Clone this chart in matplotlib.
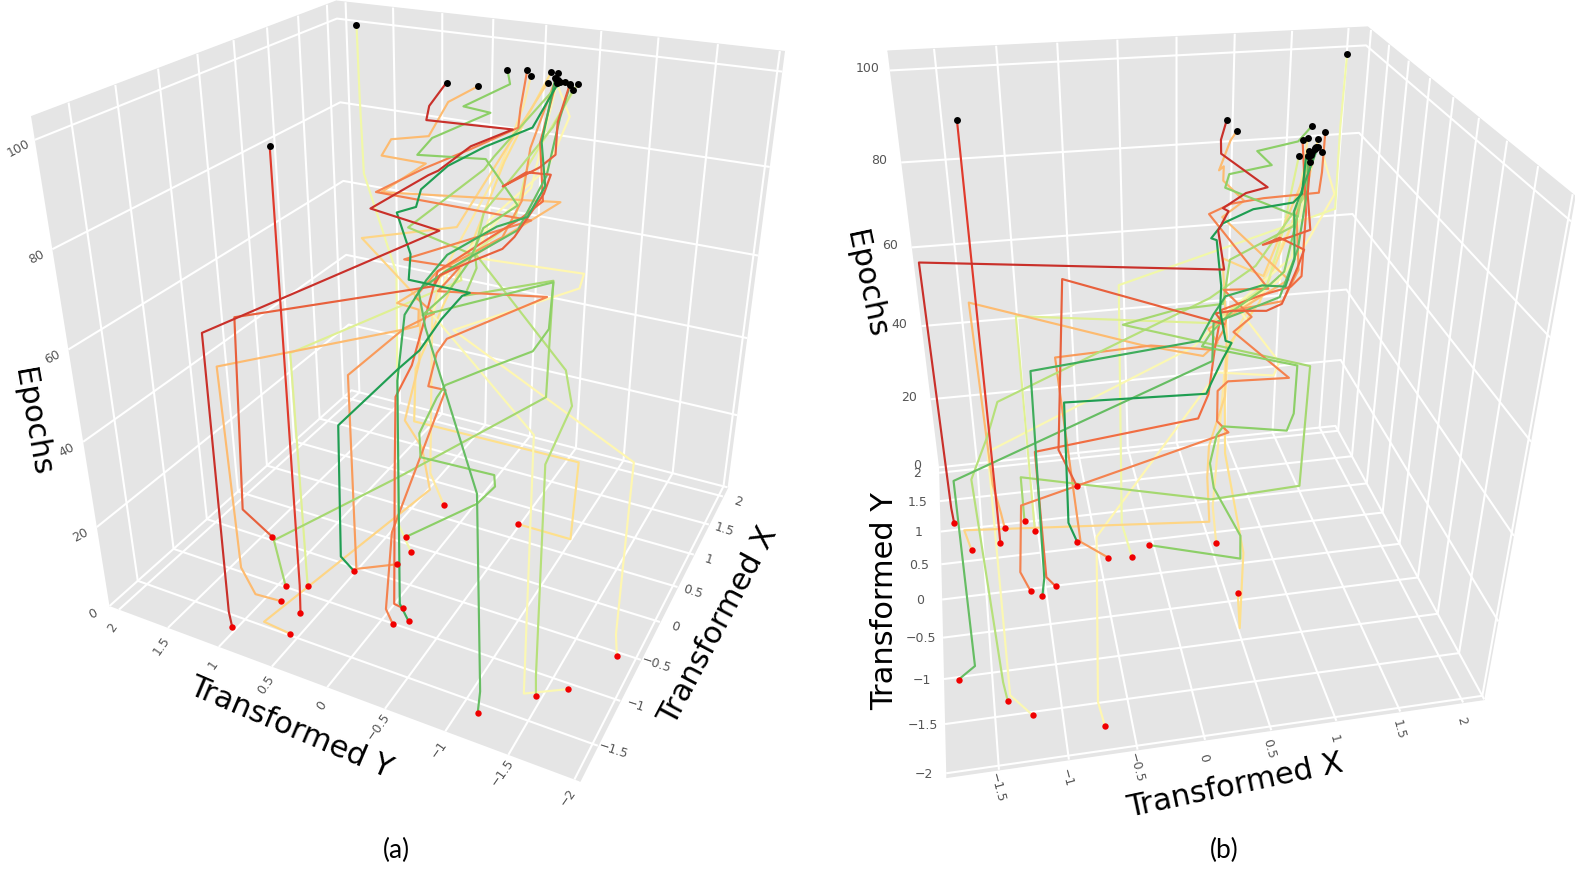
import numpy as np
import matplotlib
matplotlib.use("Agg")
import matplotlib.pyplot as plt
from mpl_toolkits.mplot3d import proj3d

W, H = 1575, 869
Z_TOP = 104
X_MIN, X_MAX = -1.87, 2.17  # x range of the box, no -2 tick in the reference
Y_MIN, Y_MAX = -2.04, 2.10

# (x, y, epoch), one list per run. x and y were read with the box taken as +-2
run_dark_red = [(-1.87,0.89,3),(-1.88,0.90,7),(-1.90,0.87,69),(0.40,0.20,70),(0.49,0.87,71),(0.45,0.32,81),(0.38,0.20,83),(0.50,-0.02,88),(0.58,-0.33,92),(0.38,0.30,93),(0.37,0.27,96),(0.38,0.13,101)]
run_red = [(-1.48,0.51,3),(-1.48,0.50,10),(-1.50,0.49,101)]
run_red_orange = [(-0.73,1.25,3),(-0.87,1.43,11),(-0.75,1.43,56),(0.42,0.26,57),(0.33,0.16,61),(0.42,-0.05,64),(0.63,-0.25,66),(0.73,-0.31,68),(0.77,-0.53,78),(0.80,-0.57,82),(0.66,-0.42,83),(0.58,-0.26,80),(0.71,-0.51,84),(0.83,-0.59,86),(0.79,-0.61,93),(0.77,-0.70,101)]
run_orange_1 = [(-1.06,-0.18,3),(-1.13,-0.14,5),(-1.15,-0.18,38),(0.28,0.56,30),(0.34,0.43,38),(0.36,0.30,51),(0.39,0.21,61),(0.61,-0.14,68),(0.78,-0.35,72),(0.81,-0.51,76),(0.83,-0.46,88),(0.73,-0.62,103)]
run_orange_2 = [(-1.27,-0.20,3),(-1.34,-0.18,8),(-1.29,-0.22,26),(0.46,0.17,32),(0.39,0.30,33),(0.37,0.21,42),(0.44,0.15,45),(0.73,-0.61,56),(0.50,0.26,55),(0.61,0.12,60),(0.48,0.56,61),(0.57,-0.51,74),(0.39,0.76,76),(0.48,0.37,82),(0.65,0.05,86),(0.99,-0.21,89),(1.00,-0.22,93),(0.99,-0.27,101)]
run_orange_3 = [(-0.58,0.12,3),(-0.79,0.39,3),(-0.92,0.32,52),(-0.17,0.23,54),(0.32,0.21,52),(0.46,0.45,53),(0.45,0.25,60),(0.77,-0.19,67),(0.84,-0.32,75),(0.78,-0.40,87),(0.84,-0.56,101)]
run_light_orange = [(-1.43,0.72,3),(-1.45,0.95,3),(-1.50,1.03,10),(-1.55,1.04,57),(-0.25,0.18,55),(0.27,0.33,49),(0.40,0.39,51),(0.36,0.57,52),(0.66,-0.71,78),(0.50,0.77,75),(0.59,0.41,82),(0.50,0.76,83),(0.48,0.66,87),(0.36,0.27,90),(0.41,0.13,97),(0.40,-0.12,101)]
run_pale_orange_1 = [(-1.73,0.45,3),(-1.78,0.65,5),(0.33,0.26,7),(0.32,0.33,18),(0.37,0.52,23),(0.48,0.43,37),(0.48,0.41,52),(0.56,1.00,63),(0.71,0.19,68),(0.86,-0.49,100)]
run_pale_orange_2 = [(0.41,-0.55,3),(0.31,-1.07,5),(0.31,-1.10,25),(0.51,0.50,21),(0.49,0.47,35),(0.44,0.18,53),(0.65,0.05,64),(0.82,-0.17,83),(0.87,-0.32,92),(0.87,-0.51,102)]
run_cream = [(0.37,0.14,3),(0.36,0.27,11),(0.45,0.29,49),(0.57,0.28,57),(0.82,-0.14,82),(0.84,-0.31,95),(0.84,-0.36,101)]
run_yellow_1 = [(-0.86,-1.87,4),(-0.90,-1.86,10),(-0.86,-1.87,48),(0.33,0.04,49),(0.52,-0.95,62),(0.55,-0.97,65),(0.45,-0.11,65),(0.77,-0.06,70),(0.83,-0.53,83),(0.97,-0.64,93),(0.89,-0.55,100)]
run_yellow_2 = [(-1.36,-1.67,4),(-1.51,-1.39,3),(-1.50,-1.38,59),(0.16,0.15,54),(0.44,0.12,62),(0.75,-0.43,79),(0.83,-0.58,101)]
run_lime_1 = [(-0.38,0.09,3),(-0.45,0.17,11),(-0.42,0.16,69),(1.70,1.60,66),(1.70,1.62,85),(1.72,1.64,101)]
run_lime_2 = [(-1.17,0.63,3),(-1.19,0.64,58),(0.24,-0.07,62),(0.42,0.04,63),(0.60,-0.36,73),(0.68,-0.42,84),(0.66,-0.80,102)]
run_light_green_1 = [(-1.53,-1.49,4),(-1.55,-1.49,9),(-1.62,-1.51,56),(-1.49,-1.62,66),(-1.41,-1.54,71),(0.21,-0.19,69),(0.57,-0.11,74),(0.77,-0.58,92),(0.76,-0.73,100)]
run_light_green_2 = [(-1.25,0.79,3),(-1.25,0.87,14),(0.41,0.59,7),(0.87,-0.59,30),(0.89,-0.60,58),(-0.47,-0.42,68),(-0.06,-0.33,69),(0.32,-0.15,67),(0.52,0.54,68),(0.88,0.03,80),(0.89,-0.05,83),(0.78,-0.62,101)]
run_green_1 = [(-0.21,0.23,3),(0.53,-0.11,3),(0.48,-0.30,10),(0.48,-0.29,13),(0.39,0.38,14),(0.35,0.37,21),(0.37,0.21,31),(0.41,0.15,34),(0.58,-0.10,37),(0.77,-0.49,42),(0.78,-0.62,48),(0.78,-0.64,59),(0.25,0.28,52),(0.28,0.07,58),(0.42,-0.05,64),(0.70,-0.05,69),(0.73,-0.33,75),(0.91,0.03,82),(0.44,0.41,85),(0.44,0.28,89),(0.66,-0.11,94),(0.60,0.09,95),(0.82,-0.20,99),(0.93,-0.13,101)]
run_green_2 = [(-1.88,-1.19,4),(-1.75,-1.15,6),(-1.75,-1.10,49),(0.34,0.30,48),(0.36,0.37,56),(0.51,0.19,60),(0.70,-0.35,70),(0.76,-0.55,82),(0.78,-0.63,94),(0.75,-0.71,101)]
run_dark_green_1 = [(-1.18,-0.29,3),(-1.15,-0.20,6),(-1.14,-0.21,57),(0.26,0.45,51),(0.34,0.29,59),(0.40,0.13,65),(0.60,-0.21,71),(0.72,-0.42,73),(0.74,-0.55,80),(0.73,-0.51,89),(0.86,-0.55,101)]
run_dark_green_2 = [(-0.82,0.40,3),(-0.88,0.48,7),(-0.86,0.46,39),(0.35,0.57,36),(0.35,0.36,42),(0.40,0.18,50),(0.43,0.01,56),(0.36,-0.09,58),(0.44,0.50,57),(0.44,0.48,63),(0.42,0.59,72),(0.33,0.37,75),(0.42,0.37,78),(0.62,0.23,82),(0.87,0.02,85),(0.81,-0.40,91),(0.77,-0.59,100),(0.79,-0.65,101)]

runs = [run_cream, run_pale_orange_2, run_yellow_1, run_yellow_2, run_lime_1, run_lime_2, run_pale_orange_1,
        run_light_orange, run_orange_3, run_light_green_1, run_light_green_2, run_orange_2, run_orange_1,
        run_green_1, run_green_2, run_red_orange, run_red, run_dark_green_1, run_dark_green_2, run_dark_red]
colors = ["#fee9a0", "#fee08b", "#fff7b0", "#fbf8b2", "#f1f8a8", "#dff092", "#fed585",
          "#fdbb70", "#f99b5b", "#b6e07a", "#a5d870", "#f4824f", "#f16d42",
          "#8ccf67", "#66bd63", "#e8603c", "#e03a2c", "#3fad5c", "#1f9e52", "#c9302a"]

x_ticks = [-1.5, -1, -0.5, 0, 0.5, 1, 1.5, 2]
y_ticks = [-2, -1.5, -1, -0.5, 0, 0.5, 1, 1.5, 2]
z_ticks = [0, 20, 40, 60, 80, 100]


def tick_text(v):
    return f"{v:g}".replace("-", "\u2212")


def place_axes(ax, scale, cx, cy):
    # view coords (u, v) land on pixels cx + scale*u, cy - scale*v
    vl = ax.viewLim
    left = cx + scale * vl.x0
    right = cx + scale * vl.x1
    top = cy - scale * vl.y1
    bottom = cy - scale * vl.y0
    ax.set_position([left / W, 1 - bottom / H, (right - left) / W, (bottom - top) / H])


def style_axes(ax):
    ax.set_xlim(X_MIN, X_MAX, view_margin=0)
    ax.set_ylim(Y_MIN, Y_MAX, view_margin=0)
    ax.set_zlim(0, Z_TOP, view_margin=0)
    ax.set_xticks(x_ticks)
    ax.set_yticks(y_ticks)
    ax.set_zticks(z_ticks)
    ax.set_xticklabels([])
    ax.set_yticklabels([])
    ax.set_zticklabels([])
    ax.patch.set_alpha(0)
    for axis in (ax.xaxis, ax.yaxis, ax.zaxis):
        axis.set_pane_color("#e5e5e5")
        axis.pane.set_edgecolor("#e5e5e5")
        axis.line.set_color((1, 1, 1, 0))
        axis._axinfo["grid"].update(color="white", linewidth=1.5)
        axis._axinfo["tick"].update(inward_factor=0, outward_factor=0)


def on_box(vals, lo, hi):
    return (np.asarray(vals, float) + 2) * (hi - lo) / 4 + lo


def draw_runs(ax):
    for run, c in zip(runs, colors):
        pts = np.array(run, float)
        xs = on_box(pts[:, 0], X_MIN, X_MAX)
        ys = on_box(pts[:, 1], Y_MIN, Y_MAX)
        ax.plot(xs, ys, pts[:, 2], color=c, lw=1.55, zorder=3)
        ax.plot(xs[:1], ys[:1], pts[:1, 2], "o", color="#f00000", ms=4.6, mew=0, zorder=4)
    for run in runs:
        pts = np.array(run[-1:], float)
        ax.plot(on_box(pts[:, 0], X_MIN, X_MAX), on_box(pts[:, 1], Y_MIN, Y_MAX), pts[:, 2],
                "o", color="black", ms=5, mew=0, zorder=5)


def label_px(x, y, s, size, rot, family="DejaVu Sans", color="black"):
    fig.text(x / W, 1 - y / H, s, fontsize=size, rotation=rot, rotation_mode="anchor",
             ha="center", va="center", family=family, color=color)


def tick_label(ax, pos, off, val, rot=0):
    # tick text beside a point of the box edge, off is in pixels
    u, v, _ = proj3d.proj_transform(pos[0], pos[1], pos[2], ax.get_proj())
    px, py = ax.transData.transform((u, v))
    label_px(px + off[0], H - py + off[1], tick_text(val), 9, rot, color="#555555")


fig = plt.figure(figsize=(W / 100, H / 100), dpi=100)

# panel (a)
ax_a = fig.add_axes([0, 0, 0.5, 0.9], projection="3d", computed_zorder=False)
style_axes(ax_a)
ax_a.view_init(elev=27.45, azim=-153.54)
ax_a.set_proj_type("persp", focal_length=0.2645)
ax_a.set_box_aspect((1, 1.041, 1.050))
place_axes(ax_a, 4591.0, 440.3, 334.5)
ax_a.apply_aspect()
draw_runs(ax_a)
for t in x_ticks:
    tick_label(ax_a, (t, Y_MIN, 0), (15, 5), t, -18)
for t in y_ticks:
    tick_label(ax_a, (X_MIN, t, 0), (-6, 18), t, 55)
for t in z_ticks:
    tick_label(ax_a, (X_MIN, Y_MAX, t), (-16, 8), t, 28)

# panel (b)
ax_b = fig.add_axes([0.5, 0, 0.5, 0.9], projection="3d", computed_zorder=False)
style_axes(ax_b)
ax_b.view_init(elev=30.53, azim=-100.52)
ax_b.set_proj_type("persp", focal_length=0.2574)
ax_b.set_box_aspect((1, 0.951, 1.015))
place_axes(ax_b, 4633.8, 1177.3, 366.0)
ax_b.apply_aspect()
draw_runs(ax_b)
for t in x_ticks:
    tick_label(ax_b, (t, Y_MIN, 0), (-2, 18), t, -75)
for t in y_ticks:
    tick_label(ax_b, (X_MIN, t, 0), (-22, 1), t)
for t in z_ticks:
    tick_label(ax_b, (X_MIN, Y_MAX, t), (-22, -2), t)

label_px(32, 422, "Epochs", 22, -80)
label_px(291, 728, "Transformed Y", 22, -23)
label_px(718, 626, "Transformed X", 22, 62)
label_px(866, 284, "Epochs", 22, -78)
label_px(885, 601, "Transformed Y", 22, 90)
label_px(1235, 786, "Transformed X", 22, 12)
label_px(396, 850, "(a)", 19, 0, family="Lato")
label_px(1224, 850, "(b)", 19, 0, family="Lato")

fig.savefig("out.png", dpi=100)
